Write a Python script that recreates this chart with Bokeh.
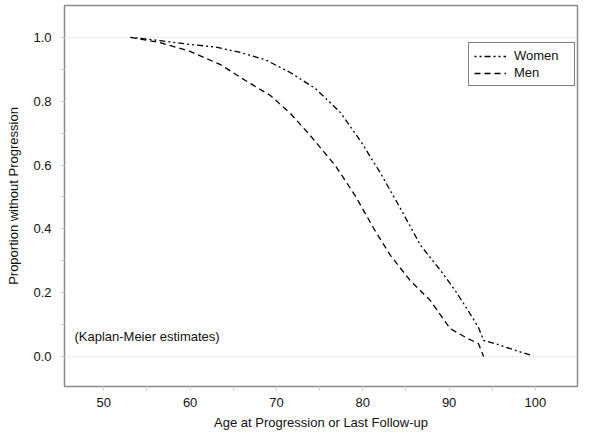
from bokeh.plotting import figure
from bokeh.models import Range1d, Legend, LegendItem, FixedTicker, Label, CustomJSTickFormatter
from bokeh.embed import file_html
from bokeh.resources import INLINE

women_age = [53.1, 56.5, 60.0, 62.9, 65.8, 68.7, 71.6, 74.5, 77.4, 79.7, 82.0, 84.3,
             86.7, 89.0, 90.7, 92.2, 93.4, 94.0, 95.4, 97.7, 99.6]
women_surv = [1.0, 0.99, 0.978, 0.97, 0.953, 0.93, 0.89, 0.84, 0.765, 0.677, 0.577, 0.467,
              0.348, 0.27, 0.207, 0.144, 0.091, 0.05, 0.04, 0.019, 0.003]
men_age = [53.1, 56.5, 60.0, 63.5, 66.4, 69.3, 71.6, 73.9, 76.8, 79.1, 81.4, 83.2,
           85.5, 87.8, 90.1, 91.9, 93.4, 94.0]
men_surv = [1.0, 0.984, 0.956, 0.915, 0.865, 0.818, 0.762, 0.693, 0.599, 0.505, 0.395, 0.317,
            0.238, 0.176, 0.088, 0.06, 0.04, 0.0]
x_ticks = [50, 60, 70, 80, 90, 100]
y_ticks = [0.0, 0.2, 0.4, 0.6, 0.8, 1.0]
note = "(Kaplan-Meier estimates)"

FONT = "Liberation Sans"

p = figure(width=592, height=436, output_backend="svg", toolbar_location=None,
           x_range=Range1d(45.45, 104.87), y_range=Range1d(-0.094, 1.100),
           min_border_left=64, min_border_right=15, min_border_top=5, min_border_bottom=50)
p.background_fill_color = "white"
p.border_fill_color = "white"
p.outline_line_color = "#8a8a8a"
p.outline_line_width = 1.5

p.xgrid.grid_line_color = None
p.ygrid.ticker = FixedTicker(ticks=[0.0, 1.0])
p.ygrid.grid_line_color = "#d8d8d8"
p.ygrid.grid_line_dash = "2 2"

for ax in (p.xaxis[0], p.yaxis[0]):
    ax.axis_line_color = None
    ax.major_tick_line_color = "#d0d0d0"
    ax.minor_tick_line_color = "#d0d0d0"
    ax.major_tick_out = 4
    ax.major_tick_in = 0
    ax.minor_tick_out = 4
    ax.minor_tick_in = 0
    ax.major_label_text_font = FONT
    ax.major_label_text_font_size = "13px"
    ax.major_label_text_color = "#111111"
    ax.axis_label_text_font = FONT
    ax.axis_label_text_font_size = "13px"
    ax.axis_label_text_font_style = "normal"
    ax.axis_label_text_color = "#111111"

p.xaxis.ticker = FixedTicker(ticks=x_ticks, minor_ticks=[55, 65, 75, 85, 95])
p.yaxis.ticker = FixedTicker(ticks=y_ticks, minor_ticks=[0.1, 0.3, 0.5, 0.7, 0.9])
p.yaxis.formatter = CustomJSTickFormatter(code="return tick.toFixed(1);")
p.xaxis.axis_label = "Age at Progression or Last Follow-up"
p.yaxis.axis_label = "Proportion without Progression"
p.xaxis.major_label_standoff = 7
p.xaxis.axis_label_standoff = 5
p.yaxis.major_label_standoff = 9
p.yaxis.axis_label_standoff = 9

rw = p.line(women_age, women_surv, line_color="black", line_width=1.3, line_dash="2 3 2 3 6 3")
rm = p.line(men_age, men_surv, line_color="black", line_width=1.3, line_dash="6 4")

p.add_layout(Label(x=46.6, y=0.062, text=note, text_font=FONT, text_font_size="13px",
                   text_baseline="middle", text_color="#111111"))

legend = Legend(items=[LegendItem(label="Women", renderers=[rw]),
                       LegendItem(label="Men", renderers=[rm])],
                location=(404, 300), orientation="vertical")
legend.border_line_color = "black"
legend.border_line_width = 1
legend.background_fill_color = "white"
legend.label_text_font = FONT
legend.label_text_font_size = "13px"
legend.label_text_color = "#111111"
legend.glyph_width = 32
legend.glyph_height = 14
legend.label_height = 14
legend.label_width = 55
legend.spacing = 2
legend.padding = 5
legend.margin = 0
legend.label_standoff = 8
p.add_layout(legend)

open("out.html", "w").write(file_html(p, INLINE))
